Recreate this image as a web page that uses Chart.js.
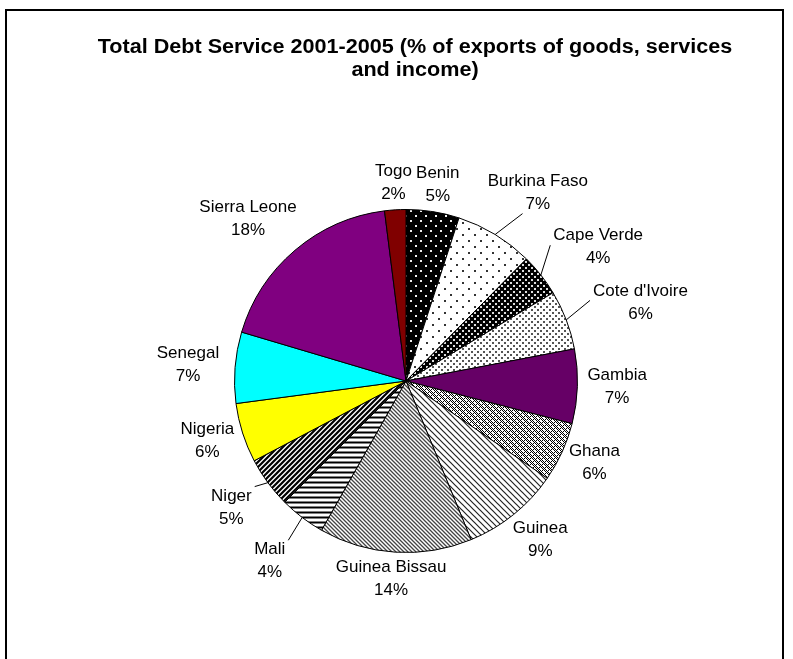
<!DOCTYPE html>
<html>
<head>
<meta charset="utf-8">
<script src="https://cdn.jsdelivr.net/npm/chart.js@4.4.1/dist/chart.umd.min.js"></script>
<style>
  html, body { margin: 0; padding: 0; background: #fff; }
  #wrap { width: 793px; height: 659px; position: relative; }
</style>
</head>
<body>
<div id="wrap"><canvas id="debtChart"></canvas></div>
<script>
// data
const countries = ['Benin', 'Burkina Faso', 'Cape Verde', "Cote d'Ivoire", 'Gambia', 'Ghana', 'Guinea',
  'Guinea Bissau', 'Mali', 'Niger', 'Nigeria', 'Senegal', 'Sierra Leone', 'Togo'];
const debtShares = [5.0, 7.4, 4.0, 5.6, 7.0, 5.6, 9.2, 14.4, 4.3, 4.8, 5.6, 6.7, 18.4, 2.0];
const titleLines = ['Total Debt Service 2001-2005 (% of exports of goods, services', 'and income)'];

// extra outward push of each label (style only), leaders drawn for big pushes
const labelPush = [0, 22, 18, 22, 0, 0, 5, 0, 28, 15, 0, 6, 14, 0];

const FONT = '"Liberation Sans", Arial, sans-serif';

const canvas = document.getElementById('debtChart');
const mainCtx = canvas.getContext('2d');

function tile(size, draw) {
  const c = document.createElement('canvas');
  c.width = size; c.height = size;
  const g = c.getContext('2d');
  draw(g, size);
  return mainCtx.createPattern(c, 'repeat');
}

function dots(bg, fg, s) {
  return tile(s, (g) => {
    g.fillStyle = bg; g.fillRect(0, 0, s, s);
    g.fillStyle = fg;
    g.fillRect(0, 0, 2, 2);
    g.fillRect(s / 2, s / 2, 2, 2);
  });
}

function stripes(dir, p, w, color) {
  return tile(p, (g) => {
    g.fillStyle = '#fff'; g.fillRect(0, 0, p, p);
    g.strokeStyle = color; g.lineWidth = w;
    g.beginPath();
    for (let k = -1; k <= 1; k++) {
      if (dir === 'h') {
        g.moveTo(0, p / 2); g.lineTo(p, p / 2);
      } else if (dir === '\\') {
        g.moveTo(k * p - 1, -1); g.lineTo(k * p + p + 1, p + 1);
      } else {
        g.moveTo(k * p - 1, p + 1); g.lineTo(k * p + p + 1, -1);
      }
    }
    g.stroke();
  });
}

const checker = tile(6, (g) => {
  g.fillStyle = '#fff'; g.fillRect(0, 0, 6, 6);
  g.fillStyle = '#000';
  for (let x = 0; x < 6; x++) for (let y = 0; y < 6; y++) if ((x + y) % 2 === 0) g.fillRect(x, y, 1, 1);
  g.fillStyle = '#fff';
  g.fillRect(0, 0, 2, 2);
  g.fillRect(3, 3, 2, 2);
});

const sliceFills = [
  dots('#000', '#eee', 10),
  dots('#fff', '#333', 12),
  dots('#000', '#ddd', 6),
  dots('#fff', '#555', 6),
  '#660066',
  checker,
  stripes('\\', 6, 1.2, '#222'),
  stripes('\\', 4, 1.3, '#444'),
  stripes('h', 5, 2.2, '#000'),
  stripes('/', 5, 2.2, '#000'),
  '#FFFF00',
  '#00FFFF',
  '#800080',
  '#800000'
];

const framePlugin = {
  id: 'frame',
  afterDraw(chart) {
    const ctx = chart.ctx;
    ctx.save();
    ctx.strokeStyle = '#000';
    ctx.lineWidth = 2;
    ctx.strokeRect(6, 10, 777, 700);
    ctx.fillStyle = '#000';
    ctx.font = 'bold 20px ' + FONT;
    ctx.textAlign = 'center';
    ctx.textBaseline = 'middle';
    ctx.translate(415, 0);
    ctx.scale(1.08, 1);
    titleLines.forEach((line, i) => ctx.fillText(line, 0, 47 + i * 23));
    ctx.restore();
  }
};

function nearestOnBox(px, py, l, t, r, b) {
  const nx = Math.min(Math.max(px, l), r);
  const ny = Math.min(Math.max(py, t), b);
  return { x: nx, y: ny, d: Math.hypot(px - nx, py - ny) };
}

const labelPlugin = {
  id: 'outsideLabels',
  afterDatasetsDraw(chart) {
    const ctx = chart.ctx;
    const meta = chart.getDatasetMeta(0);
    const total = debtShares.reduce((a, b) => a + b, 0);
    ctx.save();
    ctx.font = '17px ' + FONT;
    ctx.textAlign = 'center';
    ctx.textBaseline = 'middle';
    meta.data.forEach((arc, i) => {
      const { x, y, startAngle, endAngle, outerRadius } =
        arc.getProps(['x', 'y', 'startAngle', 'endAngle', 'outerRadius'], true);
      const mid = (startAngle + endAngle) / 2;
      const ux = Math.cos(mid), uy = Math.sin(mid);
      const pct = Math.round(debtShares[i] / total * 100) + '%';
      const nameW = ctx.measureText(countries[i]).width;
      const pctW = ctx.measureText(pct).width;
      const w = Math.max(nameW, pctW) + 12, h = 46;
      const d = outerRadius + 4 + labelPush[i];
      const cx = x + d * ux + w / 2 * ux;
      const cy = y + d * uy + h / 2 * uy;

      if (labelPush[i] >= 15) {
        const ex = x + outerRadius * ux, ey = y + outerRadius * uy;
        const a = nearestOnBox(ex, ey, cx - nameW / 2 - 3, cy - 21, cx + nameW / 2 + 3, cy - 2);
        const b = nearestOnBox(ex, ey, cx - pctW / 2 - 3, cy + 2, cx + pctW / 2 + 3, cy + 21);
        const n = a.d < b.d ? a : b;
        ctx.strokeStyle = '#000';
        ctx.lineWidth = 1;
        ctx.beginPath();
        ctx.moveTo(ex, ey);
        ctx.lineTo(n.x, n.y);
        ctx.stroke();
      }
      ctx.fillStyle = '#000';
      ctx.fillText(countries[i], cx, cy - 11.5);
      ctx.fillText(pct, cx, cy + 11.5);
    });
    ctx.restore();
  }
};

new Chart(mainCtx, {
  type: 'pie',
  data: {
    labels: countries,
    datasets: [{
      data: debtShares,
      backgroundColor: sliceFills,
      borderColor: '#000',
      borderWidth: 1
    }]
  },
  options: {
    responsive: true,
    maintainAspectRatio: false,
    animation: false,
    layout: { padding: { left: 234, right: 215, top: 209, bottom: 106 } },
    plugins: {
      legend: { display: false },
      tooltip: { enabled: false }
    }
  },
  plugins: [framePlugin, labelPlugin]
});
</script>
</body>
</html>
